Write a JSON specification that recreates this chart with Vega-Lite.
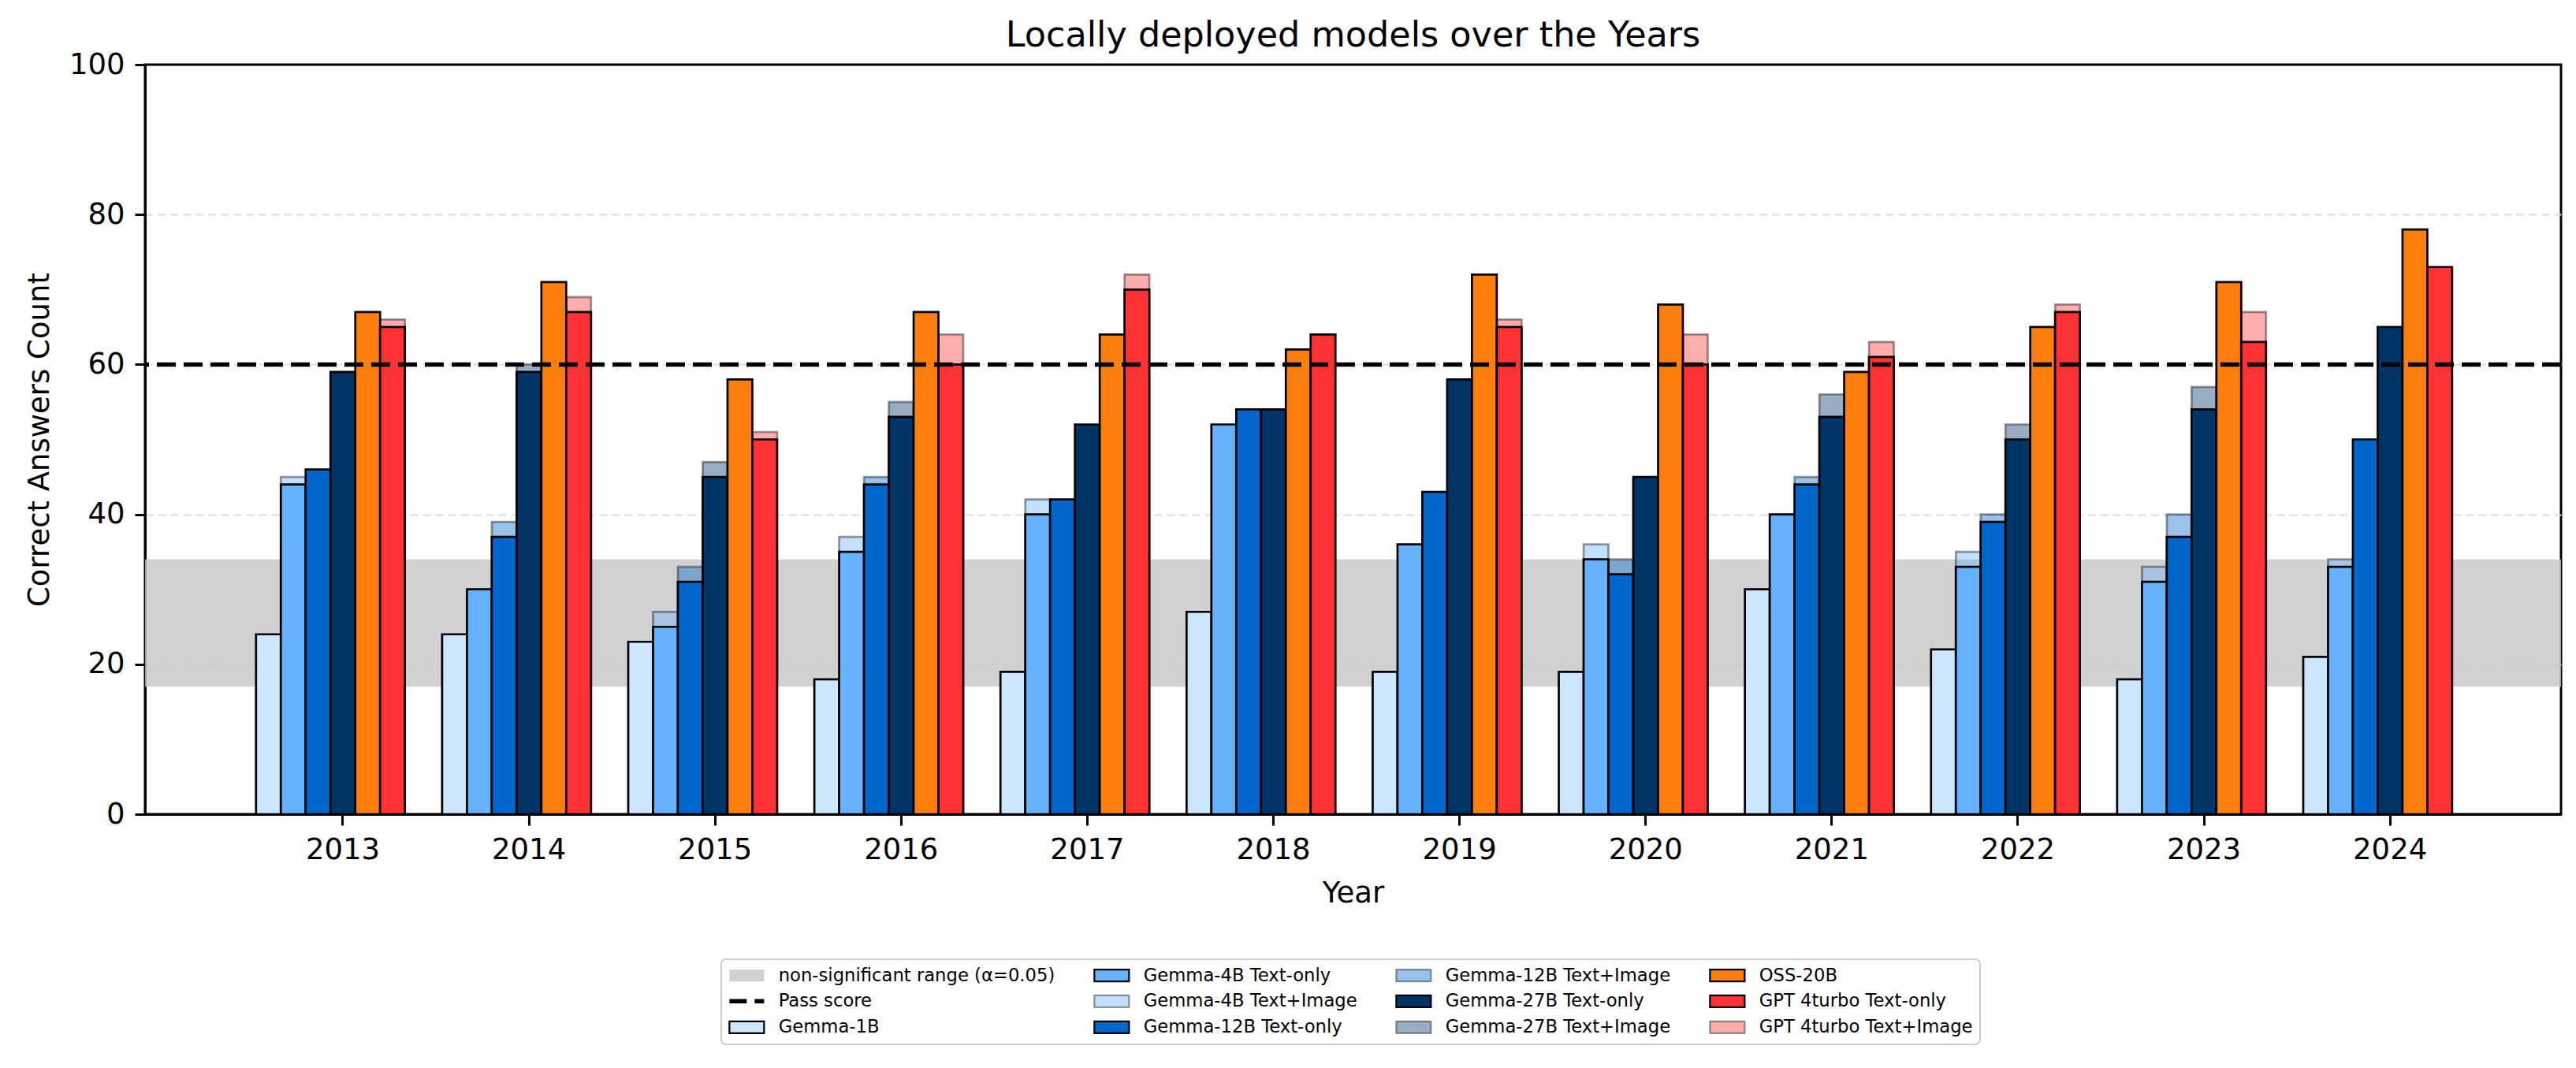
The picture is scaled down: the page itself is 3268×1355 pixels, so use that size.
{
  "$schema": "https://vega.github.io/schema/vega-lite/v6.json",
  "width": 3065,
  "height": 951,
  "autosize": {"type": "none"},
  "padding": {"left": 184, "top": 82, "right": 19, "bottom": 322},
  "title": {"text": "Locally deployed models over the Years", "font": "DejaVu Sans", "fontSize": 44.5, "fontWeight": "normal", "color": "black", "anchor": "middle", "frame": "group", "offset": -5},
  "config": {
    "font": "DejaVu Sans",
    "view": {"stroke": "black", "strokeWidth": 3},
    "axis": {"labelFont": "DejaVu Sans", "labelFontSize": 37, "labelColor": "black", "titleFont": "DejaVu Sans", "titleFontSize": 37, "titleFontWeight": "normal", "titleColor": "black", "tickColor": "black", "tickWidth": 3, "domainColor": "black", "domainWidth": 3},
    "axisX": {"tickSize": 14, "labelPadding": 13, "titlePadding": 19, "grid": false, "labelAngle": 0},
    "axisY": {"tickSize": 13, "labelPadding": 13, "titlePadding": 18, "grid": true, "gridColor": "#dddddd", "gridDash": [10, 6], "gridWidth": 2}
  },
  "datasets": {
    "band": [{"series": "non-significant range (α=0.05)", "value": 17, "value2": 34}],
    "pass": [{"series": "Pass score", "value": 60}],
    "bars": [
      {"year": 2013, "model": "Gemma-1B", "series": "Gemma-1B", "value": 24},
      {"year": 2013, "model": "Gemma-4B", "series": "Gemma-4B Text-only", "value": 44},
      {"year": 2013, "model": "Gemma-4B", "series": "Gemma-4B Text+Image", "value": 45},
      {"year": 2013, "model": "Gemma-12B", "series": "Gemma-12B Text-only", "value": 46},
      {"year": 2013, "model": "Gemma-27B", "series": "Gemma-27B Text-only", "value": 59},
      {"year": 2013, "model": "OSS-20B", "series": "OSS-20B", "value": 67},
      {"year": 2013, "model": "GPT 4turbo", "series": "GPT 4turbo Text-only", "value": 65},
      {"year": 2013, "model": "GPT 4turbo", "series": "GPT 4turbo Text+Image", "value": 66},

      {"year": 2014, "model": "Gemma-1B", "series": "Gemma-1B", "value": 24},
      {"year": 2014, "model": "Gemma-4B", "series": "Gemma-4B Text-only", "value": 30},
      {"year": 2014, "model": "Gemma-12B", "series": "Gemma-12B Text-only", "value": 37},
      {"year": 2014, "model": "Gemma-12B", "series": "Gemma-12B Text+Image", "value": 39},
      {"year": 2014, "model": "Gemma-27B", "series": "Gemma-27B Text-only", "value": 59},
      {"year": 2014, "model": "Gemma-27B", "series": "Gemma-27B Text+Image", "value": 60},
      {"year": 2014, "model": "OSS-20B", "series": "OSS-20B", "value": 71},
      {"year": 2014, "model": "GPT 4turbo", "series": "GPT 4turbo Text-only", "value": 67},
      {"year": 2014, "model": "GPT 4turbo", "series": "GPT 4turbo Text+Image", "value": 69},

      {"year": 2015, "model": "Gemma-1B", "series": "Gemma-1B", "value": 23},
      {"year": 2015, "model": "Gemma-4B", "series": "Gemma-4B Text-only", "value": 25},
      {"year": 2015, "model": "Gemma-4B", "series": "Gemma-4B Text+Image", "value": 27},
      {"year": 2015, "model": "Gemma-12B", "series": "Gemma-12B Text-only", "value": 31},
      {"year": 2015, "model": "Gemma-12B", "series": "Gemma-12B Text+Image", "value": 33},
      {"year": 2015, "model": "Gemma-27B", "series": "Gemma-27B Text-only", "value": 45},
      {"year": 2015, "model": "Gemma-27B", "series": "Gemma-27B Text+Image", "value": 47},
      {"year": 2015, "model": "OSS-20B", "series": "OSS-20B", "value": 58},
      {"year": 2015, "model": "GPT 4turbo", "series": "GPT 4turbo Text-only", "value": 50},
      {"year": 2015, "model": "GPT 4turbo", "series": "GPT 4turbo Text+Image", "value": 51},

      {"year": 2016, "model": "Gemma-1B", "series": "Gemma-1B", "value": 18},
      {"year": 2016, "model": "Gemma-4B", "series": "Gemma-4B Text-only", "value": 35},
      {"year": 2016, "model": "Gemma-4B", "series": "Gemma-4B Text+Image", "value": 37},
      {"year": 2016, "model": "Gemma-12B", "series": "Gemma-12B Text-only", "value": 44},
      {"year": 2016, "model": "Gemma-12B", "series": "Gemma-12B Text+Image", "value": 45},
      {"year": 2016, "model": "Gemma-27B", "series": "Gemma-27B Text-only", "value": 53},
      {"year": 2016, "model": "Gemma-27B", "series": "Gemma-27B Text+Image", "value": 55},
      {"year": 2016, "model": "OSS-20B", "series": "OSS-20B", "value": 67},
      {"year": 2016, "model": "GPT 4turbo", "series": "GPT 4turbo Text-only", "value": 60},
      {"year": 2016, "model": "GPT 4turbo", "series": "GPT 4turbo Text+Image", "value": 64},

      {"year": 2017, "model": "Gemma-1B", "series": "Gemma-1B", "value": 19},
      {"year": 2017, "model": "Gemma-4B", "series": "Gemma-4B Text-only", "value": 40},
      {"year": 2017, "model": "Gemma-4B", "series": "Gemma-4B Text+Image", "value": 42},
      {"year": 2017, "model": "Gemma-12B", "series": "Gemma-12B Text-only", "value": 42},
      {"year": 2017, "model": "Gemma-27B", "series": "Gemma-27B Text-only", "value": 52},
      {"year": 2017, "model": "OSS-20B", "series": "OSS-20B", "value": 64},
      {"year": 2017, "model": "GPT 4turbo", "series": "GPT 4turbo Text-only", "value": 70},
      {"year": 2017, "model": "GPT 4turbo", "series": "GPT 4turbo Text+Image", "value": 72},

      {"year": 2018, "model": "Gemma-1B", "series": "Gemma-1B", "value": 27},
      {"year": 2018, "model": "Gemma-4B", "series": "Gemma-4B Text-only", "value": 52},
      {"year": 2018, "model": "Gemma-12B", "series": "Gemma-12B Text-only", "value": 54},
      {"year": 2018, "model": "Gemma-27B", "series": "Gemma-27B Text-only", "value": 54},
      {"year": 2018, "model": "OSS-20B", "series": "OSS-20B", "value": 62},
      {"year": 2018, "model": "GPT 4turbo", "series": "GPT 4turbo Text-only", "value": 64},

      {"year": 2019, "model": "Gemma-1B", "series": "Gemma-1B", "value": 19},
      {"year": 2019, "model": "Gemma-4B", "series": "Gemma-4B Text-only", "value": 36},
      {"year": 2019, "model": "Gemma-12B", "series": "Gemma-12B Text-only", "value": 43},
      {"year": 2019, "model": "Gemma-27B", "series": "Gemma-27B Text-only", "value": 58},
      {"year": 2019, "model": "OSS-20B", "series": "OSS-20B", "value": 72},
      {"year": 2019, "model": "GPT 4turbo", "series": "GPT 4turbo Text-only", "value": 65},
      {"year": 2019, "model": "GPT 4turbo", "series": "GPT 4turbo Text+Image", "value": 66},

      {"year": 2020, "model": "Gemma-1B", "series": "Gemma-1B", "value": 19},
      {"year": 2020, "model": "Gemma-4B", "series": "Gemma-4B Text-only", "value": 34},
      {"year": 2020, "model": "Gemma-4B", "series": "Gemma-4B Text+Image", "value": 36},
      {"year": 2020, "model": "Gemma-12B", "series": "Gemma-12B Text-only", "value": 32},
      {"year": 2020, "model": "Gemma-12B", "series": "Gemma-12B Text+Image", "value": 34},
      {"year": 2020, "model": "Gemma-27B", "series": "Gemma-27B Text-only", "value": 45},
      {"year": 2020, "model": "OSS-20B", "series": "OSS-20B", "value": 68},
      {"year": 2020, "model": "GPT 4turbo", "series": "GPT 4turbo Text-only", "value": 60},
      {"year": 2020, "model": "GPT 4turbo", "series": "GPT 4turbo Text+Image", "value": 64},

      {"year": 2021, "model": "Gemma-1B", "series": "Gemma-1B", "value": 30},
      {"year": 2021, "model": "Gemma-4B", "series": "Gemma-4B Text-only", "value": 40},
      {"year": 2021, "model": "Gemma-12B", "series": "Gemma-12B Text-only", "value": 44},
      {"year": 2021, "model": "Gemma-12B", "series": "Gemma-12B Text+Image", "value": 45},
      {"year": 2021, "model": "Gemma-27B", "series": "Gemma-27B Text-only", "value": 53},
      {"year": 2021, "model": "Gemma-27B", "series": "Gemma-27B Text+Image", "value": 56},
      {"year": 2021, "model": "OSS-20B", "series": "OSS-20B", "value": 59},
      {"year": 2021, "model": "GPT 4turbo", "series": "GPT 4turbo Text-only", "value": 61},
      {"year": 2021, "model": "GPT 4turbo", "series": "GPT 4turbo Text+Image", "value": 63},

      {"year": 2022, "model": "Gemma-1B", "series": "Gemma-1B", "value": 22},
      {"year": 2022, "model": "Gemma-4B", "series": "Gemma-4B Text-only", "value": 33},
      {"year": 2022, "model": "Gemma-4B", "series": "Gemma-4B Text+Image", "value": 35},
      {"year": 2022, "model": "Gemma-12B", "series": "Gemma-12B Text-only", "value": 39},
      {"year": 2022, "model": "Gemma-12B", "series": "Gemma-12B Text+Image", "value": 40},
      {"year": 2022, "model": "Gemma-27B", "series": "Gemma-27B Text-only", "value": 50},
      {"year": 2022, "model": "Gemma-27B", "series": "Gemma-27B Text+Image", "value": 52},
      {"year": 2022, "model": "OSS-20B", "series": "OSS-20B", "value": 65},
      {"year": 2022, "model": "GPT 4turbo", "series": "GPT 4turbo Text-only", "value": 67},
      {"year": 2022, "model": "GPT 4turbo", "series": "GPT 4turbo Text+Image", "value": 68},

      {"year": 2023, "model": "Gemma-1B", "series": "Gemma-1B", "value": 18},
      {"year": 2023, "model": "Gemma-4B", "series": "Gemma-4B Text-only", "value": 31},
      {"year": 2023, "model": "Gemma-4B", "series": "Gemma-4B Text+Image", "value": 33},
      {"year": 2023, "model": "Gemma-12B", "series": "Gemma-12B Text-only", "value": 37},
      {"year": 2023, "model": "Gemma-12B", "series": "Gemma-12B Text+Image", "value": 40},
      {"year": 2023, "model": "Gemma-27B", "series": "Gemma-27B Text-only", "value": 54},
      {"year": 2023, "model": "Gemma-27B", "series": "Gemma-27B Text+Image", "value": 57},
      {"year": 2023, "model": "OSS-20B", "series": "OSS-20B", "value": 71},
      {"year": 2023, "model": "GPT 4turbo", "series": "GPT 4turbo Text-only", "value": 63},
      {"year": 2023, "model": "GPT 4turbo", "series": "GPT 4turbo Text+Image", "value": 67},

      {"year": 2024, "model": "Gemma-1B", "series": "Gemma-1B", "value": 21},
      {"year": 2024, "model": "Gemma-4B", "series": "Gemma-4B Text-only", "value": 33},
      {"year": 2024, "model": "Gemma-4B", "series": "Gemma-4B Text+Image", "value": 34},
      {"year": 2024, "model": "Gemma-12B", "series": "Gemma-12B Text-only", "value": 50},
      {"year": 2024, "model": "Gemma-27B", "series": "Gemma-27B Text-only", "value": 65},
      {"year": 2024, "model": "OSS-20B", "series": "OSS-20B", "value": 78},
      {"year": 2024, "model": "GPT 4turbo", "series": "GPT 4turbo Text-only", "value": 73}
    ]
  },
  "encoding": {
    "y": {
      "field": "value",
      "type": "quantitative",
      "title": "Correct Answers Count",
      "scale": {"domain": [0, 100], "nice": false},
      "axis": {"values": [0, 20, 40, 60, 80, 100], "gridOpacity": {"condition": {"test": "datum.value === 0 || datum.value === 100", "value": 0}, "value": 1}}
    },
    "color": {
      "field": "series",
      "type": "nominal",
      "scale": {
        "domain": [
          "non-significant range (α=0.05)", "Pass score", "Gemma-1B",
          "Gemma-4B Text-only", "Gemma-4B Text+Image", "Gemma-12B Text-only",
          "Gemma-12B Text+Image", "Gemma-27B Text-only", "Gemma-27B Text+Image",
          "OSS-20B", "GPT 4turbo Text-only", "GPT 4turbo Text+Image"
        ],
        "range": [
          "#c6c6c6", "#000000", "#cce6ff",
          "#66b2ff", "#66b2ff", "#0066cc",
          "#0066cc", "#003366", "#003366",
          "#ff7f0e", "#ff3333", "#ff3333"
        ]
      },
      "legend": {
        "title": null,
        "orient": "none",
        "legendX": 731,
        "legendY": 1135,
        "columns": 4,
        "labelFont": "DejaVu Sans",
        "labelFontSize": 22.7,
        "labelColor": "black",
        "labelLimit": 1000,
        "labelOffset": 41,
        "symbolSize": 400,
        "symbolStrokeWidth": 2.2,
        "symbolStrokeColor": "black",
        "columnPadding": 44,
        "rowPadding": 8,
        "padding": 9,
        "strokeColor": "#cccccc",
        "fillColor": "white",
        "cornerRadius": 6,
        "encode": {
          "legend": {"update": {"strokeWidth": {"value": 2}}},
          "symbols": {
            "update": {
              "shape": {"signal": "datum.value === 'Pass score' ? 'M-1,0H3.4' : 'M-1,-0.75H3.4V0.75H-1Z'"},
              "fill": {"signal": "datum.value === 'Pass score' ? 'transparent' : scale('color', datum.value)"},
              "fillOpacity": {"signal": "indexof(datum.value, 'Text+Image') >= 0 ? 0.4 : (indexof(datum.value, 'non-significant') === 0 ? 0.8 : 1)"},
              "stroke": {"signal": "indexof(datum.value, 'non-significant') === 0 ? 'transparent' : 'black'"},
              "strokeOpacity": {"signal": "indexof(datum.value, 'Text+Image') >= 0 ? 0.4 : 1"},
              "strokeWidth": {"signal": "datum.value === 'Pass score' ? 5.5 : 2.2"},
              "strokeDash": {"signal": "datum.value === 'Pass score' ? [22, 10] : null"},
              "opacity": {"value": 1}
            }
          }
        }
      }
    }
  },
  "layer": [
    {
      "data": {"name": "band"},
      "mark": {"type": "rect", "fillOpacity": 0.8},
      "encoding": {"y2": {"field": "value2"}}
    },
    {
      "data": {"name": "bars"},
      "transform": [{"filter": "indexof(datum.series, 'Text+Image') >= 0"}],
      "mark": {"type": "bar", "fillOpacity": 0.4, "stroke": "black", "strokeOpacity": 0.4, "strokeWidth": 2.7},
      "encoding": {
        "x": {"field": "year", "type": "ordinal", "title": "Year", "scale": {"paddingInner": 0.0666, "paddingOuter": 0.524, "align": 0.569}},
        "xOffset": {"field": "model", "type": "nominal", "scale": {"domain": ["Gemma-1B", "Gemma-4B", "Gemma-12B", "Gemma-27B", "OSS-20B", "GPT 4turbo", "_"], "paddingInner": 0, "paddingOuter": 0}}
      }
    },
    {
      "data": {"name": "bars"},
      "transform": [{"filter": "indexof(datum.series, 'Text+Image') < 0"}],
      "mark": {"type": "bar", "stroke": "black", "strokeWidth": 2.7},
      "encoding": {
        "x": {"field": "year", "type": "ordinal", "title": "Year", "scale": {"paddingInner": 0.0666, "paddingOuter": 0.524, "align": 0.569}},
        "xOffset": {"field": "model", "type": "nominal", "scale": {"domain": ["Gemma-1B", "Gemma-4B", "Gemma-12B", "Gemma-27B", "OSS-20B", "GPT 4turbo", "_"], "paddingInner": 0, "paddingOuter": 0}}
      }
    },
    {
      "data": {"name": "pass"},
      "mark": {"type": "rule", "color": "black", "strokeDash": [24, 10], "strokeWidth": 5.5},
      "encoding": {"color": null}
    }
  ]
}
